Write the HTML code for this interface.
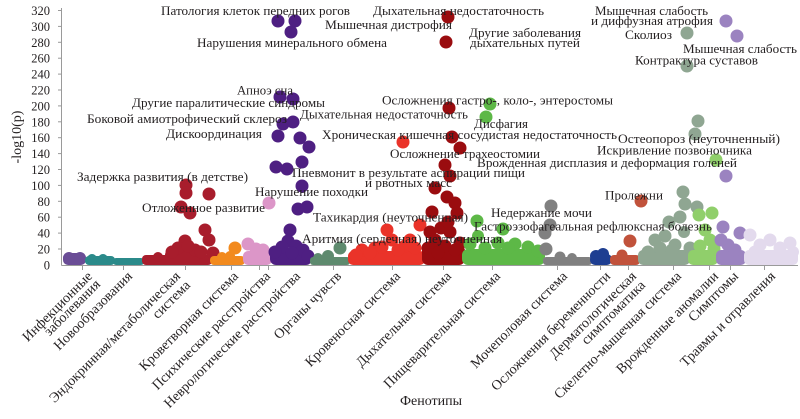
<!DOCTYPE html>
<html>
<head>
<meta charset="utf-8">
<style>
html,body{margin:0;padding:0;background:#fff;}
svg{display:block;}
text{font-family:"Liberation Serif","DejaVu Serif",serif;fill:#231f20;}
</style>
</head>
<body>
<svg width="800" height="419" viewBox="0 0 800 419" xmlns="http://www.w3.org/2000/svg">
<rect width="800" height="419" fill="#fff"/>

<!-- axes -->
<g stroke="#9a9a9a" stroke-width="1" fill="none">
  <line x1="61.5" y1="8" x2="61.5" y2="265.5"/>
  <line x1="61.5" y1="265.5" x2="798" y2="265.5"/>
  <g>
    <line x1="58" y1="10.5" x2="61.5" y2="10.5"/>
    <line x1="58" y1="26.4" x2="61.5" y2="26.4"/>
    <line x1="58" y1="42.3" x2="61.5" y2="42.3"/>
    <line x1="58" y1="58.2" x2="61.5" y2="58.2"/>
    <line x1="58" y1="74.1" x2="61.5" y2="74.1"/>
    <line x1="58" y1="90" x2="61.5" y2="90"/>
    <line x1="58" y1="105.9" x2="61.5" y2="105.9"/>
    <line x1="58" y1="121.8" x2="61.5" y2="121.8"/>
    <line x1="58" y1="137.7" x2="61.5" y2="137.7"/>
    <line x1="58" y1="153.6" x2="61.5" y2="153.6"/>
    <line x1="58" y1="169.5" x2="61.5" y2="169.5"/>
    <line x1="58" y1="185.4" x2="61.5" y2="185.4"/>
    <line x1="58" y1="201.3" x2="61.5" y2="201.3"/>
    <line x1="58" y1="217.2" x2="61.5" y2="217.2"/>
    <line x1="58" y1="233.1" x2="61.5" y2="233.1"/>
    <line x1="58" y1="249" x2="61.5" y2="249"/>
  </g>
  <g>
    <line x1="82.5" y1="265" x2="82.5" y2="270"/>
    <line x1="123.5" y1="265" x2="123.5" y2="270"/>
    <line x1="185.5" y1="265" x2="185.5" y2="270"/>
    <line x1="231.5" y1="265" x2="231.5" y2="270"/>
    <line x1="259.5" y1="265" x2="259.5" y2="270"/>
    <line x1="268.5" y1="265" x2="268.5" y2="270"/>
    <line x1="333.5" y1="265" x2="333.5" y2="270"/>
    <line x1="392.5" y1="265" x2="392.5" y2="270"/>
    <line x1="443.5" y1="265" x2="443.5" y2="270"/>
    <line x1="492.5" y1="265" x2="492.5" y2="270"/>
    <line x1="557.5" y1="265" x2="557.5" y2="270"/>
    <line x1="600.5" y1="265" x2="600.5" y2="270"/>
    <line x1="628.5" y1="265" x2="628.5" y2="270"/>
    <line x1="673.5" y1="265" x2="673.5" y2="270"/>
    <line x1="709.5" y1="265" x2="709.5" y2="270"/>
    <line x1="730.5" y1="265" x2="730.5" y2="270"/>
    <line x1="764.5" y1="265" x2="764.5" y2="270"/>
  </g>
</g>

<!-- y tick labels -->
<g font-size="12.5" text-anchor="end">
  <text x="50" y="15">320</text>
  <text x="50" y="30.9">300</text>
  <text x="50" y="46.8">280</text>
  <text x="50" y="62.7">260</text>
  <text x="50" y="78.6">240</text>
  <text x="50" y="94.5">220</text>
  <text x="50" y="110.4">200</text>
  <text x="50" y="126.3">180</text>
  <text x="50" y="142.2">160</text>
  <text x="50" y="158.1">140</text>
  <text x="50" y="174">120</text>
  <text x="50" y="189.9">100</text>
  <text x="50" y="205.8">80</text>
  <text x="50" y="221.7">60</text>
  <text x="50" y="237.6">40</text>
  <text x="50" y="253.5">20</text>
  <text x="50" y="269.4">0</text>
</g>

<text x="21" y="137" font-size="14" text-anchor="middle" transform="rotate(-90 21 137)">-log10(p)</text>
<text x="431" y="405" font-size="14" text-anchor="middle">Фенотипы</text>

<!-- bands -->
<g>
  <g fill="#6a4d96"><rect x="63" y="253" width="23" height="12" rx="5"/><circle cx="69" cy="258" r="6"/><circle cx="80" cy="258" r="6"/></g>
  <g fill="#2b8a8a"><rect x="85" y="256" width="30" height="9" rx="4"/><rect x="113" y="258" width="31" height="7" rx="3"/><circle cx="92" cy="259" r="5"/><circle cx="103" cy="259" r="5"/></g>
  <g fill="#a81d2c"><rect x="142" y="255" width="70" height="10" rx="4"/><rect x="165" y="249" width="35" height="16" rx="6"/>
    <circle cx="186" cy="185" r="6.5"/><circle cx="186" cy="193" r="6.5"/><circle cx="209" cy="194" r="6.5"/><circle cx="181" cy="207" r="6.5"/><circle cx="190" cy="213" r="6.5"/><circle cx="205" cy="230" r="6.5"/><circle cx="209" cy="240" r="6.5"/><circle cx="185" cy="241" r="6.5"/><circle cx="213" cy="253" r="6.5"/><circle cx="178" cy="248" r="6.5"/><circle cx="195" cy="250" r="6.5"/><circle cx="201" cy="252" r="6.5"/><circle cx="172" cy="252" r="6.5"/><circle cx="188" cy="246" r="6.5"/><circle cx="158" cy="257" r="5"/></g>
  <g fill="#f28a1e"><rect x="210" y="256" width="35" height="9" rx="4"/><circle cx="235" cy="248" r="6.5"/><circle cx="222" cy="257" r="5"/><circle cx="230" cy="256" r="5"/></g>
  <g fill="#dc96c8"><rect x="243" y="251" width="29" height="14" rx="5"/><circle cx="269" cy="203" r="6.5"/><circle cx="248" cy="244" r="6.5"/><circle cx="256" cy="249" r="6.5"/><circle cx="263" cy="250" r="6.5"/></g>
  <g fill="#4e1f82"><rect x="270" y="250" width="42" height="15" rx="6"/>
    <circle cx="278" cy="21" r="6.5"/><circle cx="295" cy="21" r="6.5"/><circle cx="291" cy="32" r="6.5"/><circle cx="280" cy="97" r="6.5"/><circle cx="293" cy="99" r="6.5"/><circle cx="283" cy="124" r="6.5"/><circle cx="293" cy="122" r="6.5"/><circle cx="278" cy="136" r="6.5"/><circle cx="300" cy="138" r="6.5"/><circle cx="309" cy="147" r="6.5"/><circle cx="302" cy="162" r="6.5"/><circle cx="276" cy="167" r="6.5"/><circle cx="287" cy="169" r="6.5"/><circle cx="302" cy="186" r="6.5"/><circle cx="298" cy="209" r="6.5"/><circle cx="307" cy="207" r="6.5"/><circle cx="290" cy="230" r="6.5"/><circle cx="288" cy="241" r="6.5"/><circle cx="282" cy="247" r="6.5"/><circle cx="296" cy="246" r="6.5"/><circle cx="303" cy="250" r="6.5"/><circle cx="275" cy="252" r="6.5"/><circle cx="292" cy="253" r="6.5"/><circle cx="308" cy="256" r="6.5"/></g>
  <g fill="#5e8a6e"><rect x="310" y="257" width="40" height="8" rx="3"/><circle cx="340" cy="248" r="6.5"/><circle cx="328" cy="256" r="6"/><circle cx="318" cy="258" r="5"/></g>
  <g fill="#ea3329"><rect x="348" y="251" width="77" height="14" rx="5"/>
    <circle cx="403" cy="142" r="6.5"/><circle cx="420" cy="225" r="6.5"/><circle cx="387" cy="230" r="6.5"/><circle cx="392" cy="240" r="6.5"/><circle cx="405" cy="246" r="6.5"/><circle cx="410" cy="240" r="6.5"/><circle cx="375" cy="248" r="6.5"/><circle cx="362" cy="250" r="6.5"/><circle cx="382" cy="247" r="6.5"/><circle cx="398" cy="250" r="6.5"/><circle cx="415" cy="248" r="6.5"/><circle cx="370" cy="253" r="6.5"/><circle cx="356" cy="255" r="6.5"/></g>
  <g fill="#9a0c0f"><rect x="422" y="245" width="43" height="20" rx="6"/>
    <circle cx="448" cy="17" r="6.5"/><circle cx="446" cy="42" r="6.5"/><circle cx="449" cy="108" r="6.5"/><circle cx="452" cy="137" r="6.5"/><circle cx="460" cy="148" r="6.5"/><circle cx="445" cy="165" r="6.5"/><circle cx="450" cy="176" r="6.5"/><circle cx="435" cy="188" r="6.5"/><circle cx="447" cy="197" r="6.5"/><circle cx="455" cy="203" r="6.5"/><circle cx="457" cy="213" r="6.5"/><circle cx="432" cy="212" r="6.5"/><circle cx="441" cy="228" r="6.5"/><circle cx="430" cy="232" r="6.5"/><circle cx="435" cy="240" r="6.5"/><circle cx="450" cy="232" r="6.5"/><circle cx="460" cy="243" r="6.5"/><circle cx="428" cy="248" r="6.5"/><circle cx="445" cy="246" r="6.5"/><circle cx="455" cy="250" r="6.5"/><circle cx="438" cy="253" r="6.5"/><circle cx="448" cy="222" r="6.5"/></g>
  <g fill="#5db847"><rect x="462" y="249" width="83" height="16" rx="6"/>
    <circle cx="490" cy="104" r="6.5"/><circle cx="486" cy="117" r="6.5"/><circle cx="477" cy="221" r="6.5"/><circle cx="503" cy="229" r="6.5"/><circle cx="470" cy="244" r="6.5"/><circle cx="485" cy="248" r="6.5"/><circle cx="498" cy="243" r="6.5"/><circle cx="515" cy="244" r="6.5"/><circle cx="528" cy="247" r="6.5"/><circle cx="538" cy="251" r="6.5"/><circle cx="508" cy="248" r="6.5"/><circle cx="478" cy="236" r="6"/></g>
  <g fill="#808080"><rect x="543" y="257" width="49" height="8" rx="3"/><circle cx="551" cy="206" r="6.5"/><circle cx="550" cy="225" r="6.5"/><circle cx="545" cy="233" r="6.5"/><circle cx="546" cy="249" r="6.5"/><circle cx="560" cy="257" r="5.5"/><circle cx="572" cy="258" r="5"/></g>
  <g fill="#1e3e91"><rect x="590" y="254" width="22" height="11" rx="5"/><circle cx="603" cy="254" r="6"/><circle cx="596" cy="256" r="6"/></g>
  <g fill="#c1523b"><rect x="610" y="255" width="30" height="10" rx="4"/><circle cx="641" cy="201" r="6.5"/><circle cx="630" cy="241" r="6.5"/><circle cx="622" cy="255" r="5.5"/></g>
  <g fill="#8fa692"><rect x="638" y="250" width="52" height="15" rx="5"/>
    <circle cx="687" cy="33" r="6.5"/><circle cx="687" cy="66" r="6.5"/><circle cx="698" cy="121" r="6.5"/><circle cx="695" cy="134" r="6.5"/><circle cx="683" cy="192" r="6.5"/><circle cx="685" cy="204" r="6.5"/><circle cx="697" cy="207" r="6.5"/><circle cx="680" cy="217" r="6.5"/><circle cx="669" cy="222" r="6.5"/><circle cx="665" cy="236" r="6.5"/><circle cx="655" cy="240" r="6.5"/><circle cx="675" cy="245" r="6.5"/><circle cx="690" cy="248" r="6.5"/><circle cx="660" cy="248" r="6.5"/><circle cx="648" cy="252" r="6.5"/><circle cx="672" cy="250" r="6.5"/><circle cx="684" cy="232" r="6"/></g>
  <g fill="#90cf6b"><rect x="688" y="250" width="30" height="15" rx="5"/><circle cx="716" cy="160" r="6.5"/><circle cx="699" cy="215" r="6.5"/><circle cx="712" cy="213" r="6.5"/><circle cx="705" cy="230" r="6.5"/><circle cx="710" cy="240" r="6.5"/><circle cx="700" cy="246" r="6.5"/><circle cx="714" cy="249" r="6.5"/></g>
  <g fill="#9b83c0"><rect x="716" y="250" width="30" height="15" rx="5"/><circle cx="726" cy="21" r="6.5"/><circle cx="737" cy="36" r="6.5"/><circle cx="726" cy="176" r="6.5"/><circle cx="723" cy="227" r="6.5"/><circle cx="740" cy="233" r="6.5"/><circle cx="728" cy="245" r="6.5"/><circle cx="735" cy="250" r="6.5"/><circle cx="721" cy="240" r="6.5"/></g>
  <g fill="#e3daed"><rect x="744" y="250" width="54" height="15" rx="5"/><circle cx="750" cy="235" r="6.5"/><circle cx="770" cy="240" r="6.5"/><circle cx="790" cy="243" r="6.5"/><circle cx="760" cy="245" r="6.5"/><circle cx="780" cy="248" r="6.5"/><circle cx="793" cy="252" r="6"/><circle cx="755" cy="252" r="6.5"/></g>
</g>

<!-- annotations -->
<g font-size="13">
  <text x="161" y="15" textLength="189" lengthAdjust="spacingAndGlyphs">Патология клеток передних рогов</text>
  <text x="373" y="15" textLength="171" lengthAdjust="spacingAndGlyphs">Дыхательная недостаточность</text>
  <text x="325" y="29" textLength="127" lengthAdjust="spacingAndGlyphs">Мышечная дистрофия</text>
  <text x="197" y="47" textLength="190" lengthAdjust="spacingAndGlyphs">Нарушения минерального обмена</text>
  <text x="469" y="37" textLength="112" lengthAdjust="spacingAndGlyphs">Другие заболевания</text>
  <text x="470" y="47" textLength="110" lengthAdjust="spacingAndGlyphs">дыхательных путей</text>
  <text x="595" y="15" textLength="113" lengthAdjust="spacingAndGlyphs">Мышечная слабость</text>
  <text x="591" y="25" textLength="122" lengthAdjust="spacingAndGlyphs">и диффузная атрофия</text>
  <text x="625" y="39" textLength="47" lengthAdjust="spacingAndGlyphs">Сколиоз</text>
  <text x="683" y="53" textLength="114" lengthAdjust="spacingAndGlyphs">Мышечная слабость</text>
  <text x="635" y="64.5" textLength="123" lengthAdjust="spacingAndGlyphs">Контрактура суставов</text>
  <text x="237" y="94.5" textLength="56" lengthAdjust="spacingAndGlyphs">Апноэ сна</text>
  <text x="132" y="107" textLength="193" lengthAdjust="spacingAndGlyphs">Другие паралитические синдромы</text>
  <text x="87" y="123" textLength="200" lengthAdjust="spacingAndGlyphs">Боковой амиотрофический склероз</text>
  <text x="166" y="138" textLength="96" lengthAdjust="spacingAndGlyphs">Дискоординация</text>
  <text x="382" y="104.5" textLength="231" lengthAdjust="spacingAndGlyphs">Осложнения гастро-, коло-, энтеростомы</text>
  <text x="300" y="118.5" textLength="168" lengthAdjust="spacingAndGlyphs">Дыхательная недостаточность</text>
  <text x="474" y="128" textLength="54" lengthAdjust="spacingAndGlyphs">Дисфагия</text>
  <text x="322" y="139" textLength="295" lengthAdjust="spacingAndGlyphs">Хроническая кишечная сосудистая недостаточность</text>
  <text x="618" y="143" textLength="162" lengthAdjust="spacingAndGlyphs">Остеопороз (неуточненный)</text>
  <text x="390" y="158" textLength="150" lengthAdjust="spacingAndGlyphs">Осложнение трахеостомии</text>
  <text x="597" y="154.5" textLength="155" lengthAdjust="spacingAndGlyphs">Искривление позвоночника</text>
  <text x="477" y="167" textLength="260" lengthAdjust="spacingAndGlyphs">Врожденная дисплазия и деформация голеней</text>
  <text x="292" y="177" textLength="233" lengthAdjust="spacingAndGlyphs">Пневмонит в результате аспирации пищи</text>
  <text x="365" y="187" textLength="87" lengthAdjust="spacingAndGlyphs">и рвотных масс</text>
  <text x="77" y="181" textLength="171" lengthAdjust="spacingAndGlyphs">Задержка развития (в детстве)</text>
  <text x="255" y="196" textLength="113" lengthAdjust="spacingAndGlyphs">Нарушение походки</text>
  <text x="605" y="199.5" textLength="58" lengthAdjust="spacingAndGlyphs">Пролежни</text>
  <text x="142" y="212" textLength="123" lengthAdjust="spacingAndGlyphs">Отложенное развитие</text>
  <text x="313" y="221.5" textLength="155" lengthAdjust="spacingAndGlyphs">Тахикардия (неуточненная)</text>
  <text x="491" y="217" textLength="101" lengthAdjust="spacingAndGlyphs">Недержание мочи</text>
  <text x="474" y="230.5" textLength="238" lengthAdjust="spacingAndGlyphs">Гастроэзофагеальная рефлюксная болезнь</text>
  <text x="302" y="243" textLength="200" lengthAdjust="spacingAndGlyphs">Аритмия (сердечная) неуточненная</text>
</g>

<!-- x category labels -->
<g font-size="14" text-anchor="end">
  <text x="93" y="277" transform="rotate(-45 93 277)">Инфекционные</text>
  <text x="101" y="285" transform="rotate(-45 101 285)">заболевания</text>
  <text x="133" y="277" transform="rotate(-45 133 277)">Новообразования</text>
  <text x="181" y="277" transform="rotate(-45 181 277)">Эндокринная/метаболическая</text>
  <text x="191" y="286" transform="rotate(-45 191 286)">система</text>
  <text x="239" y="277" transform="rotate(-45 239 277)">Кроветворная система</text>
  <text x="271" y="277" transform="rotate(-45 271 277)">Психические расстройства</text>
  <text x="301" y="277" transform="rotate(-45 301 277)">Неврологические расстройства</text>
  <text x="342" y="277" transform="rotate(-45 342 277)">Органы чувств</text>
  <text x="401" y="277" transform="rotate(-45 401 277)">Кровеносная система</text>
  <text x="452" y="277" transform="rotate(-45 452 277)">Дыхательная система</text>
  <text x="501" y="277" transform="rotate(-45 501 277)">Пищеварительная система</text>
  <text x="568" y="277" transform="rotate(-45 568 277)">Мочеполовая система</text>
  <text x="611" y="277" transform="rotate(-45 611 277)">Осложнения беременности</text>
  <text x="637" y="277" transform="rotate(-45 637 277)">Дерматологическая</text>
  <text x="646" y="286" transform="rotate(-45 646 286)">симптоматика</text>
  <text x="682" y="277" transform="rotate(-45 682 277)">Скелетно-мышечная система</text>
  <text x="719" y="277" transform="rotate(-45 719 277)">Врожденные аномалии</text>
  <text x="739" y="277" transform="rotate(-45 739 277)">Симптомы</text>
  <text x="776" y="277" transform="rotate(-45 776 277)">Травмы и отравления</text>
</g>
</svg>
</body>
</html>
